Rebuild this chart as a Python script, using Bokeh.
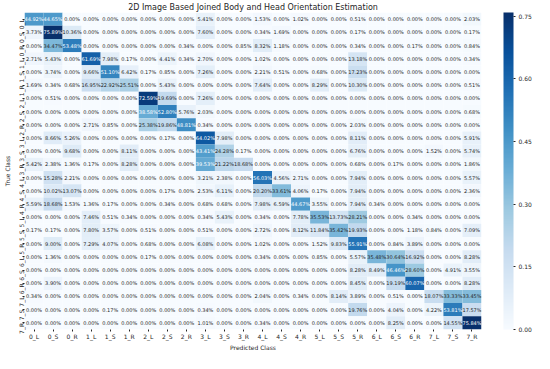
from bokeh.plotting import figure
from bokeh.models import ColumnDataSource, LinearColorMapper, ColorBar, FixedTicker, PrintfTickFormatter, FactorRange, Title
from bokeh.palettes import Blues256
from bokeh.core.properties import value
from bokeh.embed import file_html
from bokeh.resources import INLINE

classes = ["0_L", "0_S", "0_R", "1_L", "1_S", "1_R", "2_L", "2_S", "2_R",
           "3_L", "3_S", "3_R", "4_L", "4_S", "4_R", "5_L", "5_S", "5_R",
           "6_L", "6_S", "6_R", "7_L", "7_S", "7_R"]

# percent values, one list per true class (row), columns = predicted class
row_0_L = [44.92, 44.65, 0, 0, 0, 0, 0, 0, 0, 5.41, 0, 0, 1.53, 0, 1.02, 0, 0, 0.51, 0, 0, 0, 0, 0, 2.03]
row_0_S = [3.73, 75.89, 10.36, 0, 0, 0, 0, 0, 0, 7.60, 0, 0, 0.34, 1.69, 0, 0, 0, 0.17, 0, 0, 0, 0, 0, 0.17]
row_0_R = [0, 34.47, 53.48, 0, 0, 0, 0, 0, 0.34, 0, 0, 0.85, 8.32, 1.18, 0, 0, 0, 0.34, 0, 0, 0.17, 0, 0, 0.84]
row_1_L = [2.71, 5.43, 0, 61.69, 7.98, 0.17, 0, 4.41, 0.34, 2.70, 0, 0, 1.02, 0, 0, 0, 0, 13.18, 0, 0, 0, 0, 0, 0.34]
row_1_S = [0, 3.74, 0, 9.66, 51.10, 6.42, 0.17, 0.85, 0, 7.26, 0, 0, 2.21, 0.51, 0, 0.68, 0, 17.23, 0, 0, 0, 0, 0, 0]
row_1_R = [1.69, 0.34, 0.68, 16.95, 22.92, 25.51, 0, 5.43, 0, 0, 0, 0, 7.64, 0, 0, 8.29, 0, 10.30, 0, 0, 0, 0, 0, 0.51]
row_2_L = [0, 0.51, 0, 0, 0, 0, 72.59, 19.69, 0, 7.26, 0, 0, 0, 0, 0, 0, 0, 0, 0, 0, 0, 0, 0, 0]
row_2_S = [0, 0, 0, 0, 0, 0, 38.58, 52.80, 5.76, 2.03, 0, 0, 0, 0, 0, 0, 0, 0, 0, 0, 0, 0, 0, 0.68]
row_2_R = [0, 0, 0, 2.71, 0.85, 0, 25.38, 19.86, 48.81, 0.34, 0, 0, 0, 0, 0, 0, 0, 2.03, 0, 0, 0, 0, 0, 0]
row_3_L = [0, 8.66, 5.26, 0, 0, 0, 0, 0.17, 0, 64.02, 7.98, 0, 0, 0, 0, 0, 0, 8.11, 0, 0, 0, 0, 0, 5.91]
row_3_S = [0, 0, 9.68, 0, 0, 8.11, 0, 0, 0, 43.41, 24.28, 0.17, 0, 0, 0, 0, 0, 6.76, 0, 0, 0, 1.52, 0, 5.74]
row_3_R = [5.42, 2.38, 1.36, 0.17, 0, 8.28, 0, 0, 0, 39.53, 21.22, 18.68, 0, 0, 0, 0, 0, 0.68, 0, 0.17, 0, 0, 0, 1.86]
row_4_L = [0, 15.28, 2.21, 0, 0, 0, 0, 0, 0, 3.21, 2.38, 0, 56.03, 4.56, 2.71, 0, 0, 7.94, 0, 0, 0, 0, 0, 5.57]
row_4_S = [0, 10.02, 13.07, 0, 0, 0, 0, 0.17, 0, 2.53, 6.11, 0, 20.20, 33.61, 4.06, 0.17, 0, 7.94, 0, 0, 0, 0, 0, 2.36]
row_4_R = [5.59, 18.68, 1.53, 1.36, 0.17, 0, 0, 0.34, 0, 0.68, 0.68, 0, 7.98, 6.59, 44.67, 3.55, 0, 7.94, 0.34, 0, 0, 0, 0, 0]
row_5_L = [0, 0, 0, 7.46, 0.51, 0.34, 0, 0, 0, 0.34, 5.43, 0, 0.34, 0, 7.78, 35.53, 13.73, 28.21, 0, 0, 0.34, 0, 0, 0]
row_5_S = [0.17, 0.17, 0, 7.80, 3.57, 0, 0.51, 0, 0, 0.51, 0, 0, 2.72, 0, 8.12, 11.84, 35.42, 19.93, 0, 0, 1.18, 0.84, 0, 7.09]
row_5_R = [0, 9.00, 0, 7.29, 4.07, 0, 0.68, 0, 0, 6.08, 0, 0, 1.02, 0, 0, 1.52, 9.83, 55.91, 0, 0.84, 3.89, 0, 0, 0]
row_6_L = [0, 1.36, 0, 0, 0, 0, 0.17, 0, 0, 0, 0, 0, 0.34, 0, 0, 0.85, 0, 5.57, 35.48, 30.64, 16.92, 0, 0, 8.28]
row_6_S = [0, 0, 0, 0, 0, 0, 0, 0, 0, 0, 0, 0, 0, 0, 0, 0, 0, 8.28, 8.49, 46.46, 28.60, 0, 4.91, 3.55]
row_6_R = [0, 3.90, 0, 0, 0, 0, 0, 0, 0, 0, 0, 0, 0, 0, 0, 0, 0, 8.45, 0, 19.19, 60.07, 0, 0, 8.28]
row_7_L = [0.34, 0, 0, 0, 0, 0, 0, 0, 0, 0, 0, 0, 2.04, 0, 0.34, 0, 8.14, 3.89, 0, 0.51, 0, 18.07, 33.33, 33.45]
row_7_S = [0, 0, 0, 0, 0.17, 0, 0, 0, 0, 0.34, 0, 0, 0, 0, 0, 0, 0, 19.76, 0, 4.04, 0, 4.22, 53.81, 17.57]
row_7_R = [0, 0, 0, 0, 0, 0, 0, 0, 0, 1.01, 0, 0, 0.34, 0, 0, 0, 0, 0, 0, 8.25, 0, 0, 14.55, 75.84]

rows = [row_0_L, row_0_S, row_0_R, row_1_L, row_1_S, row_1_R, row_2_L, row_2_S, row_2_R,
        row_3_L, row_3_S, row_3_R, row_4_L, row_4_S, row_4_R, row_5_L, row_5_S, row_5_R,
        row_6_L, row_6_S, row_6_R, row_7_L, row_7_S, row_7_R]

colorbar_ticks = [0.0, 0.15, 0.30, 0.45, 0.60, 0.75]

xs, ys, vals, labels, tcolors = [], [], [], [], []
for ti, r in enumerate(rows):
    for pi, v in enumerate(r):
        xs.append(classes[pi])
        ys.append(classes[ti])
        vals.append(v / 100.0)
        labels.append(f"{v:.2f}%")
        tcolors.append("#ffffff" if v / 100.0 > 0.37 else "#262626")

src = ColumnDataSource(dict(x=xs, y=ys, v=vals, label=labels, tc=tcolors))

pal = list(Blues256)
def lum(h):
    return int(h[1:3], 16) + int(h[3:5], 16) + int(h[5:7], 16)
if lum(pal[0]) < lum(pal[-1]):
    pal = pal[::-1]

vmax = max(vals)
mapper = LinearColorMapper(palette=pal, low=0.0, high=vmax)

p = figure(width=534, height=353, x_range=FactorRange(*classes),
           y_range=FactorRange(*classes[::-1]),
           output_backend="svg", toolbar_location=None,
           title="2D Image Based Joined Body and Head Orientation Estimation",
           min_border_left=18, min_border_right=2, min_border_top=2, min_border_bottom=2)

p.rect(x="x", y="y", width=1, height=1, source=src,
       fill_color={"field": "v", "transform": mapper}, line_color=None)
p.text(x="x", y="y", text="label", source=src, text_color="tc",
       text_align="center", text_baseline="middle", text_font_size="5px",
       text_font=value("DejaVu Sans"))

p.title.align = "center"
p.title.text_font = "DejaVu Sans"
p.title.text_font_size = "8px"
p.title.text_font_style = "normal"
p.title.text_color = "#262626"
p.title.offset = 0
p.title.standoff = 1

for ax in (p.xaxis, p.yaxis):
    ax.axis_line_color = None
    ax.major_tick_line_color = "#262626"
    ax.major_tick_out = 2
    ax.major_tick_in = 0
    ax.major_label_text_font = "DejaVu Sans"
    ax.major_label_text_font_size = "6px"
    ax.major_label_text_color = "#262626"
    ax.axis_label_text_font = "DejaVu Sans"
    ax.axis_label_text_font_size = "6px"
    ax.axis_label_text_font_style = "normal"
    ax.axis_label_text_color = "#262626"
    ax.major_label_standoff = 1
    ax.axis_label_standoff = 1
    ax.group_text_font_size = "0px"

p.xaxis.axis_label = "Predicted Class"
p.yaxis.axis_label = "True Class"
p.yaxis.major_label_orientation = 1.5708

p.grid.grid_line_color = None
p.outline_line_color = None
p.x_range.range_padding = 0
p.y_range.range_padding = 0

spacer = Title(text=" ", text_font_size="18px", standoff=0, offset=0)
p.add_layout(spacer, "right")

cb = ColorBar(color_mapper=mapper, ticker=FixedTicker(ticks=colorbar_ticks),
              formatter=PrintfTickFormatter(format="%.2f"),
              width=10, padding=0, margin=0, bar_line_color=None,
              major_tick_line_color="#262626", major_tick_out=2, major_tick_in=0,
              major_label_text_font="DejaVu Sans", major_label_text_font_size="6px",
              major_label_text_color="#262626", label_standoff=3,
              background_fill_color=None)
p.add_layout(cb, "right")

open("out.html", "w").write(file_html(p, INLINE))
